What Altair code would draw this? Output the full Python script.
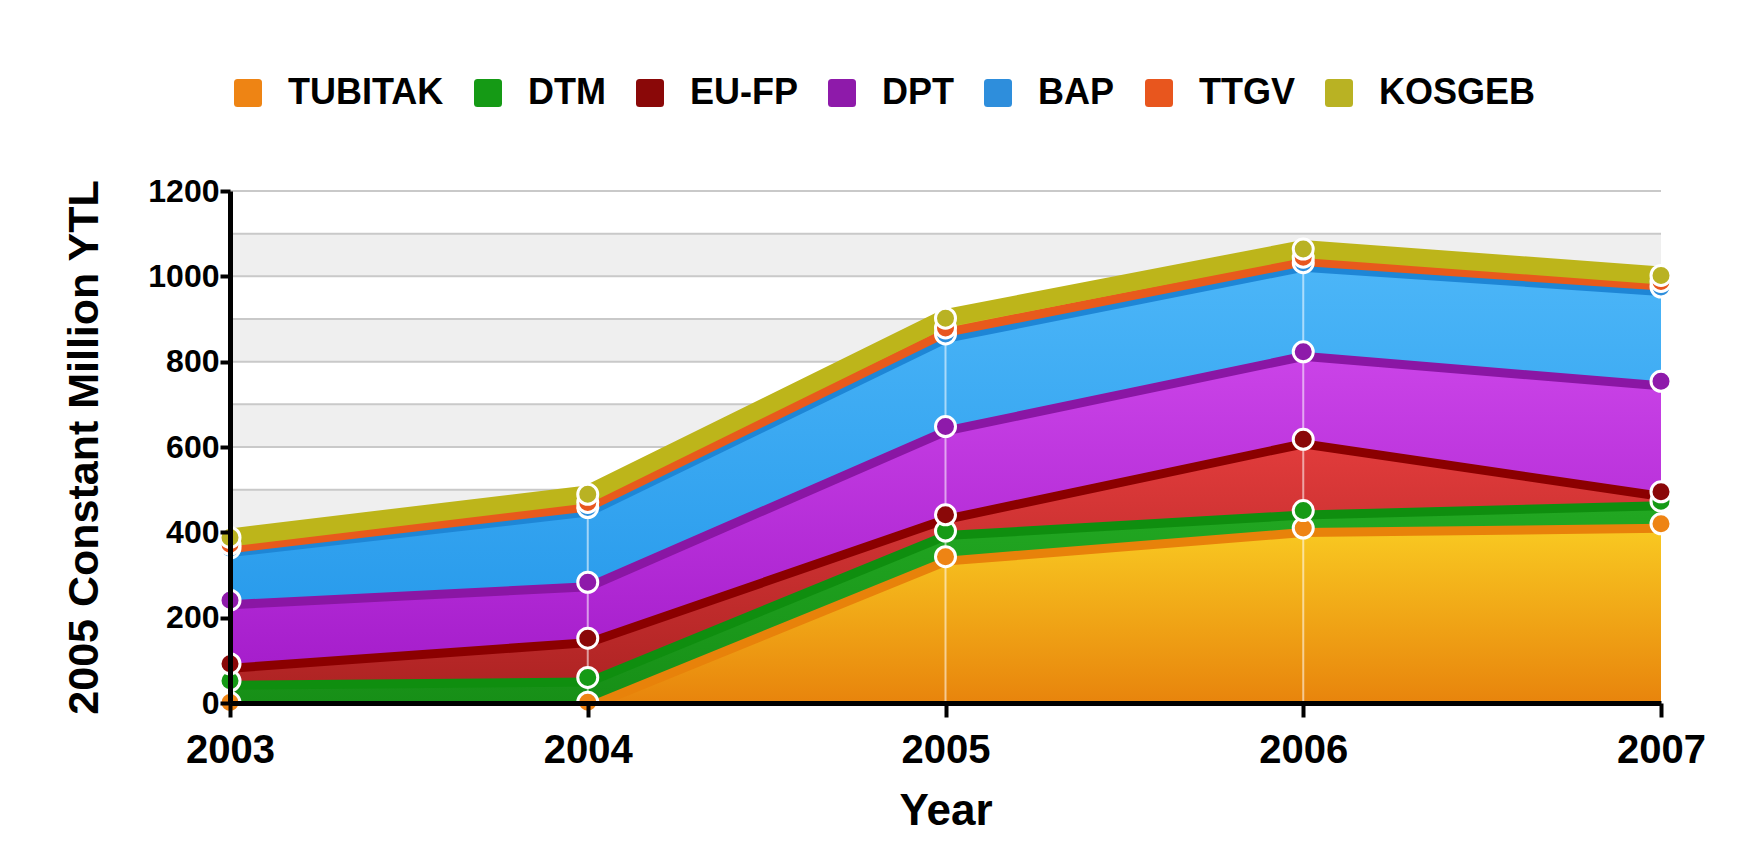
import altair as alt
import pandas as pd

# ---------------- data ----------------
years = [2003, 2004, 2005, 2006, 2007]
series = ["TUBITAK", "DTM", "EU-FP", "DPT", "BAP", "TTGV", "KOSGEB"]
tubitak = [1, 2, 343, 410, 420]
dtm = [51, 58, 60, 41, 53]
eufp = [40, 92, 38, 167, 22]
dpt = [149, 131, 207, 205, 259]
bap = [122, 175, 217, 209, 221]
ttgv = [9, 12, 14, 13, 13]
kosgeb = [16, 19, 23, 19, 14]

y_tick_labels = [0, 200, 400, 600, 800, 1000, 1200]
grid_values = [0, 100, 200, 300, 400, 500, 600, 700, 800, 900, 1000, 1100, 1200]
band_starts = [0, 200, 400, 600, 800, 1000]
band_step = 100

# ---------------- styles ----------------
point_colors = ["#EE8414", "#159A15", "#8A0808", "#8E1AAA", "#2E8EDC", "#E8561E", "#B9B223"]
line_colors = ["#E8820A", "#0F8E0F", "#8B0000", "#8A16A4", "#1E86D6", "#E85A1C", "#BDB51A"]
area_top = ["#F9CB22", "#22A822", "#E23C3C", "#CB44E8", "#4CB6F8", "#F06430", "#CCC426"]
area_bottom = ["#E8840C", "#178F17", "#B02424", "#A61ECC", "#2A9CEC", "#E04A18", "#B8B01C"]

FONT = "Liberation Sans"
W, H = 1431, 512

values = [tubitak, dtm, eufp, dpt, bap, ttgv, kosgeb]
rows = []
for si, (s, vals) in enumerate(zip(series, values)):
    for y, v in zip(years, vals):
        rows.append({"year": y, "series": s, "value": v, "order": si})
df = pd.DataFrame(rows)

xscale = alt.Scale(domain=[2003, 2007], nice=False, zero=False)
yscale = alt.Scale(domain=[0, 1200], nice=False)

x_enc = alt.X(
    "year:Q",
    scale=xscale,
    axis=alt.Axis(
        values=years, format="d", title="Year",
        labelFont=FONT, labelFontSize=40, labelFontWeight="bold", labelColor="#000",
        labelPadding=13, labelFlush=False,
        titleFont=FONT, titleFontSize=44, titleFontWeight="bold", titleColor="#000",
        titleY=108, titleBaseline="middle",
        domainColor="#000", domainWidth=5, tickColor="#000", tickWidth=4, tickSize=14,
        grid=False, zindex=1,
    ),
)
y_axis = alt.Axis(
    values=y_tick_labels, format="d", title="2005 Constant Million YTL",
    labelFont=FONT, labelFontSize=32, labelFontWeight="bold", labelColor="#000",
    labelPadding=1,
    titleFont=FONT, titleFontSize=43, titleFontWeight="bold", titleColor="#000",
    titleX=-146, titleY=H / 2, titleAngle=-90, titleAlign="center", titleBaseline="middle",
    domainColor="#000", domainWidth=5, tickColor="#000", tickWidth=4, tickSize=10,
    grid=False, zindex=1,
)


def Y(field):
    return alt.Y(field, scale=yscale, axis=y_axis)


# background bands and grid
bands = alt.Chart(pd.DataFrame({"b": band_starts})).transform_calculate(
    e=f"datum.b + {band_step}"
).mark_rect(color="#EFEFEF").encode(
    x=alt.datum(2003), x2=alt.datum(2007), y=Y("b:Q"), y2="e:Q"
)
grid = alt.Chart(pd.DataFrame({"g": grid_values})).mark_rule(
    color="#C9C9C9", strokeWidth=2
).encode(x=alt.datum(2003), x2=alt.datum(2007), y=Y("g:Q"))

base = alt.Chart(df).transform_stack(
    stack="value", groupby=["year"], as_=["y0", "y1"],
    sort=[alt.SortField("order", order="ascending")],
)

layers = [bands, grid]
for i, s in enumerate(series):
    grad = alt.Gradient(
        gradient="linear",
        stops=[alt.GradientStop(color=area_top[i], offset=0),
               alt.GradientStop(color=area_bottom[i], offset=1)],
        x1=0, x2=0, y1=0, y2=1,
    )
    sub = base.transform_filter(alt.datum.series == s)
    area = sub.mark_area(color=grad, clip=True, opacity=1).encode(
        x=x_enc, y=Y("y1:Q"), y2="y0:Q"
    )
    line = sub.mark_line(color=line_colors[i], strokeWidth=18, clip=True).encode(
        x=x_enc, y=Y("y1:Q")
    )
    layers += [area, line]

vlines = base.transform_filter(
    (alt.datum.series == "KOSGEB") & (alt.datum.year > 2003) & (alt.datum.year < 2007)
).mark_rule(color="white", opacity=0.55, strokeWidth=2).encode(
    x=x_enc, y=Y("y1:Q"), y2=alt.datum(0)
)
layers.append(vlines)

rounded = ("M-0.75,-1 L0.75,-1 Q1,-1 1,-0.75 L1,0.75 Q1,1 0.75,1 L-0.75,1 "
           "Q-1,1 -1,0.75 L-1,-0.75 Q-1,-1 -0.75,-1 Z")
points = base.mark_circle(size=400, opacity=1, stroke="white", strokeWidth=3).encode(
    x=x_enc,
    y=Y("y1:Q"),
    color=alt.Color(
        "series:N",
        scale=alt.Scale(domain=series, range=point_colors),
        sort=series,
        legend=alt.Legend(
            title=None, orient="none", legendX=0, legendY=-116, direction="horizontal",
            labelFont=FONT, labelFontSize=36, labelFontWeight="bold", labelColor="#000",
            symbolType=rounded, symbolSize=784, symbolStrokeWidth=0, symbolOpacity=1,
            labelOffset=22, columnPadding=26, padding=0,
        ),
    ),
    order=alt.Order("order:Q"),
)
layers.append(points)

chart = alt.layer(*layers).properties(
    width=W, height=H,
    padding={"left": 222, "top": 183, "right": 80, "bottom": 140},
    autosize=alt.AutoSizeParams(type="none"),
    background="white",
).configure_view(stroke=None)

chart.save("out.html", embed_options={"renderer": "svg", "actions": False})
